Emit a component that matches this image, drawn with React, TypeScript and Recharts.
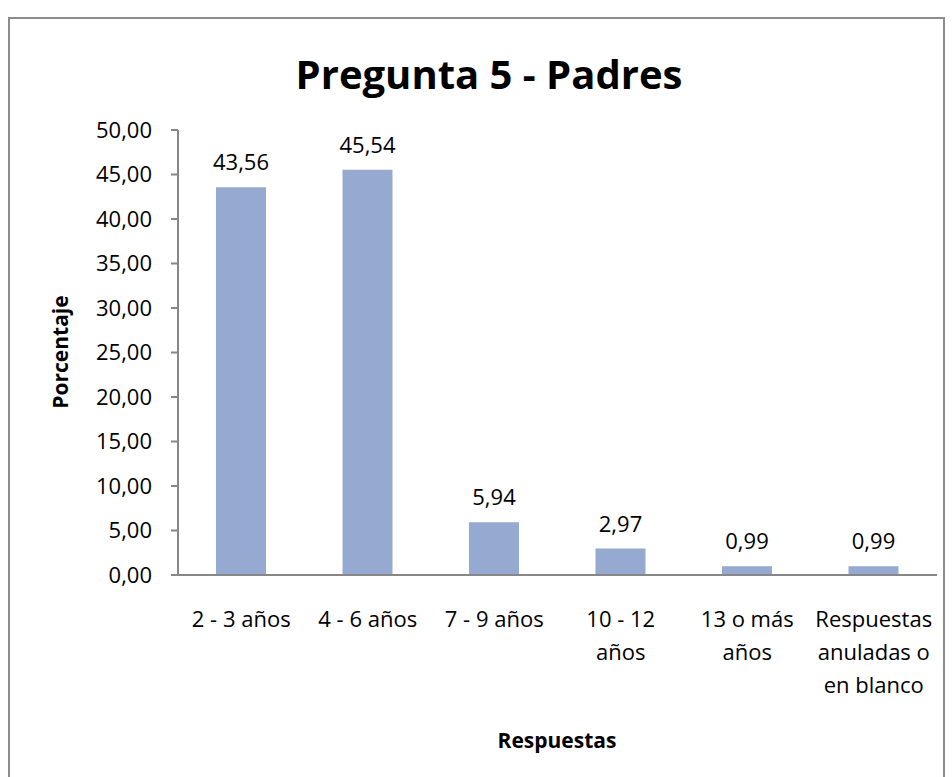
import { Bar, BarChart, LabelList, XAxis, YAxis } from "recharts";

const categories = [
  "2 - 3 años",
  "4 - 6 años",
  "7 - 9 años",
  "10 - 12 años",
  "13 o más años",
  "Respuestas anuladas o en blanco",
];
const porcentajes = [43.56, 45.54, 5.94, 2.97, 0.99, 0.99];
const yTicks = [0, 5, 10, 15, 20, 25, 30, 35, 40, 45, 50];

const FONT = "'Open Sans', sans-serif";
const AXIS = "#878787";

const data = categories.map((c, i) => ({ name: c, value: porcentajes[i] }));

function fmt(v: number): string {
  return v.toFixed(2).replace(".", ",");
}

// greedy wrap, about 10 chars per line like the original
function wrap(label: string, max = 10): string[] {
  const words = label.split(" ");
  const lines: string[] = [];
  let cur = "";
  for (const w of words) {
    const next = cur ? `${cur} ${w}` : w;
    if (next.length > max && cur) {
      lines.push(cur);
      cur = w;
    } else {
      cur = next;
    }
  }
  if (cur) lines.push(cur);
  return lines;
}

function CategoryTick(props: any) {
  const { x, y, payload } = props;
  const lines = wrap(String(payload.value));
  return (
    <text x={x} y={y} textAnchor="middle" fontFamily={FONT} fontSize={22} fill="#000">
      {lines.map((l, i) => (
        <tspan key={i} x={x} dy={i === 0 ? 52 : 33}>
          {l}
        </tspan>
      ))}
    </text>
  );
}

export default function App() {
  return (
    <div style={{ position: "absolute", left: 0, top: 0, width: 952, height: 777, background: "#fff", overflow: "hidden" }}>
      <div
        style={{
          position: "absolute",
          left: 8,
          top: 17,
          width: 937,
          height: 790,
          border: "2px solid #8c8c8c",
          boxSizing: "border-box",
        }}
      />
      <div
        style={{
          position: "absolute",
          left: 0,
          width: 978,
          top: 44,
          textAlign: "center",
          fontFamily: FONT,
          fontWeight: 700,
          fontSize: 40,
          lineHeight: "60px",
          color: "#000",
        }}
      >
        Pregunta 5 - Padres
      </div>
      <div
        style={{
          position: "absolute",
          left: 60,
          top: 352,
          transform: "translate(-50%, -50%) rotate(-90deg)",
          fontFamily: FONT,
          fontWeight: 700,
          fontSize: 21,
          whiteSpace: "nowrap",
          color: "#000",
        }}
      >
        Porcentaje
      </div>
      <div
        style={{
          position: "absolute",
          left: 557,
          top: 740,
          transform: "translate(-50%, -50%)",
          fontFamily: FONT,
          fontWeight: 700,
          fontSize: 21,
          whiteSpace: "nowrap",
          color: "#000",
        }}
      >
        Respuestas
      </div>
      <div style={{ position: "absolute", left: 0, top: 0 }}>
        <BarChart
          width={952}
          height={777}
          data={data}
          margin={{ top: 130, right: 15, left: 0, bottom: 0 }}
        >
          <XAxis
            dataKey="name"
            interval={0}
            height={202}
            tickLine={false}
            tickSize={0}
            tickMargin={0}
            axisLine={{ stroke: AXIS, strokeWidth: 2 }}
            tick={<CategoryTick />}
          />
          <YAxis
            width={178}
            domain={[0, 50]}
            ticks={yTicks}
            interval={0}
            tickSize={7}
            tickMargin={19}
            tickFormatter={fmt}
            axisLine={{ stroke: AXIS, strokeWidth: 2 }}
            tickLine={{ stroke: AXIS, strokeWidth: 2 }}
            tick={{ fontFamily: FONT, fontSize: 22, fill: "#000" }}
          />
          <Bar dataKey="value" fill="#95a9d1" barSize={50} isAnimationActive={false}>
            <LabelList
              dataKey="value"
              position="top"
              offset={17}
              formatter={(v: any) => fmt(Number(v))}
              style={{ fontFamily: FONT, fontSize: 22, fill: "#000" }}
            />
          </Bar>
        </BarChart>
      </div>
    </div>
  );
}
